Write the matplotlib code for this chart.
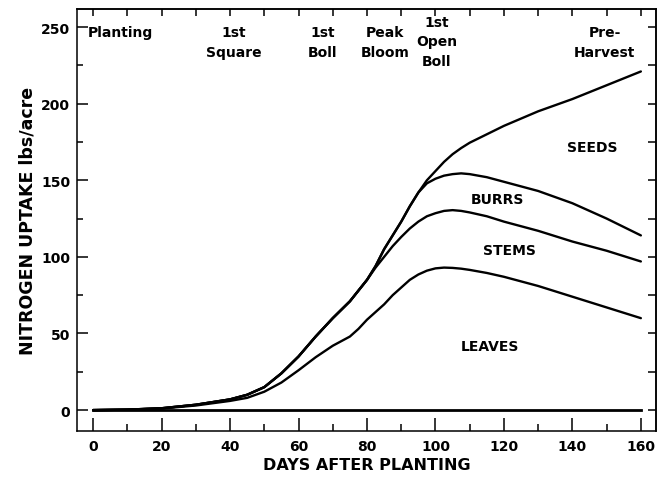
import numpy as np
import matplotlib
matplotlib.use("Agg")
import matplotlib.pyplot as plt
from matplotlib.ticker import MultipleLocator

# --- Data: cumulative nitrogen uptake (lbs/acre) ---
days = [0, 10, 20, 30, 40, 45, 50, 55, 60, 65, 70, 75, 77.5, 80, 82.5, 85,
        87.5, 90, 92.5, 95, 97.5, 100, 102.5, 105, 107.5, 110, 115, 120,
        130, 140, 150, 160]

leaves = [0, 0.3, 1, 3, 6, 8, 12, 18, 26, 34.5, 42, 48, 53, 59, 64, 69,
          75, 80, 85, 88.5, 91, 92.5, 93, 92.8, 92.3, 91.5, 89.5, 87,
          81, 74, 67, 60]
stems = [0, 0.3, 1.2, 3.5, 7, 10, 15, 24, 35, 48, 60, 71, 78, 85, 93, 100,
         107, 113, 118.5, 123, 126.5, 128.5, 130, 130.5, 130, 129, 126.5,
         123, 117, 110, 104, 97]
burrs = [0, 0.3, 1.2, 3.5, 7, 10, 15, 24, 35, 48, 60, 71, 78, 85, 94, 105,
         114, 123, 133, 142, 148, 151, 153, 154, 154.5, 154, 152, 149,
         143, 135, 125, 114]
seeds = [0, 0.3, 1.2, 3.5, 7, 10, 15, 24, 35, 48, 60, 71, 78, 85, 94, 105,
         114, 123, 133, 142, 150, 156, 162, 167, 171, 174.5, 180, 185.5,
         195, 203, 212, 221]

# growth stage markers along the top
stage_x = [-1.5, 41, 67, 85.3, 100.4, 149.5]
stage_names = ["Planting", "1st\nSquare", "1st\nBoll", "Peak\nBloom",
               "1st\nOpen\nBoll", "Pre-\nHarvest"]

# part labels between the curves
part_names = ["SEEDS", "BURRS", "STEMS", "LEAVES"]
part_x = [145.7, 118, 121.5, 116]
part_y = [172, 138, 104.5, 42]

plt.rcParams['font.family'] = ['DejaVu Sans']
plt.rcParams['font.weight'] = 'bold'

fig = plt.figure(figsize=(6.7, 4.81), dpi=100)
ax = fig.add_axes([0.115, 0.102, 0.864, 0.877])

lw = 1.7
for series in [leaves, stems, burrs, seeds]:
    ax.plot(days, series, color='black', lw=lw, solid_joinstyle='round',
            solid_capstyle='round')
ax.plot([days[0], days[-1]], [0, 0], color='black', lw=2.0)

ax.set_xlim(-4.7, 164.4)
ax.set_ylim(-13.6, 261.7)

# bottom / left ticks
ax.xaxis.set_major_locator(MultipleLocator(20))
ax.xaxis.set_minor_locator(MultipleLocator(10))
ax.yaxis.set_major_locator(MultipleLocator(50))
ax.yaxis.set_minor_locator(MultipleLocator(25))
ax.tick_params(axis='x', which='major', direction='in', length=9.5, width=1.1,
               labelsize=10, pad=6)
ax.tick_params(axis='x', which='minor', direction='in', length=5, width=1.1)
ax.tick_params(axis='y', which='major', direction='in', length=8, width=1.1,
               labelsize=10, pad=5)
ax.tick_params(axis='y', which='minor', direction='in', length=4.5, width=1.1)

# top / right ticks, all the same length
top = ax.secondary_xaxis('top')
top.xaxis.set_major_locator(MultipleLocator(10))
top.tick_params(direction='in', length=5, width=1.1, labeltop=False)
right = ax.secondary_yaxis('right')
right.yaxis.set_major_locator(MultipleLocator(25))
right.tick_params(direction='in', length=5.5, width=1.1, labelright=False)

for a in [ax, top, right]:
    for s in a.spines.values():
        s.set_linewidth(1.1)

ax.set_xlabel("DAYS AFTER PLANTING", fontsize=11.5, fontweight='bold',
              labelpad=3)
ax.set_ylabel("NITROGEN UPTAKE lbs/acre", fontsize=12.5, fontweight='bold',
              labelpad=3)

for xs, name in zip(stage_x, stage_names):
    ha = 'left' if name == "Planting" else 'center'
    ytop = 258 if "Open" in name else 251
    ax.text(xs, ytop, name, ha=ha, va='top', fontsize=10, linespacing=1.5)

for name, xs, ys in zip(part_names, part_x, part_y):
    ax.text(xs, ys, name, ha='center', va='center', fontsize=10)

fig.savefig("out.png", dpi=100)
